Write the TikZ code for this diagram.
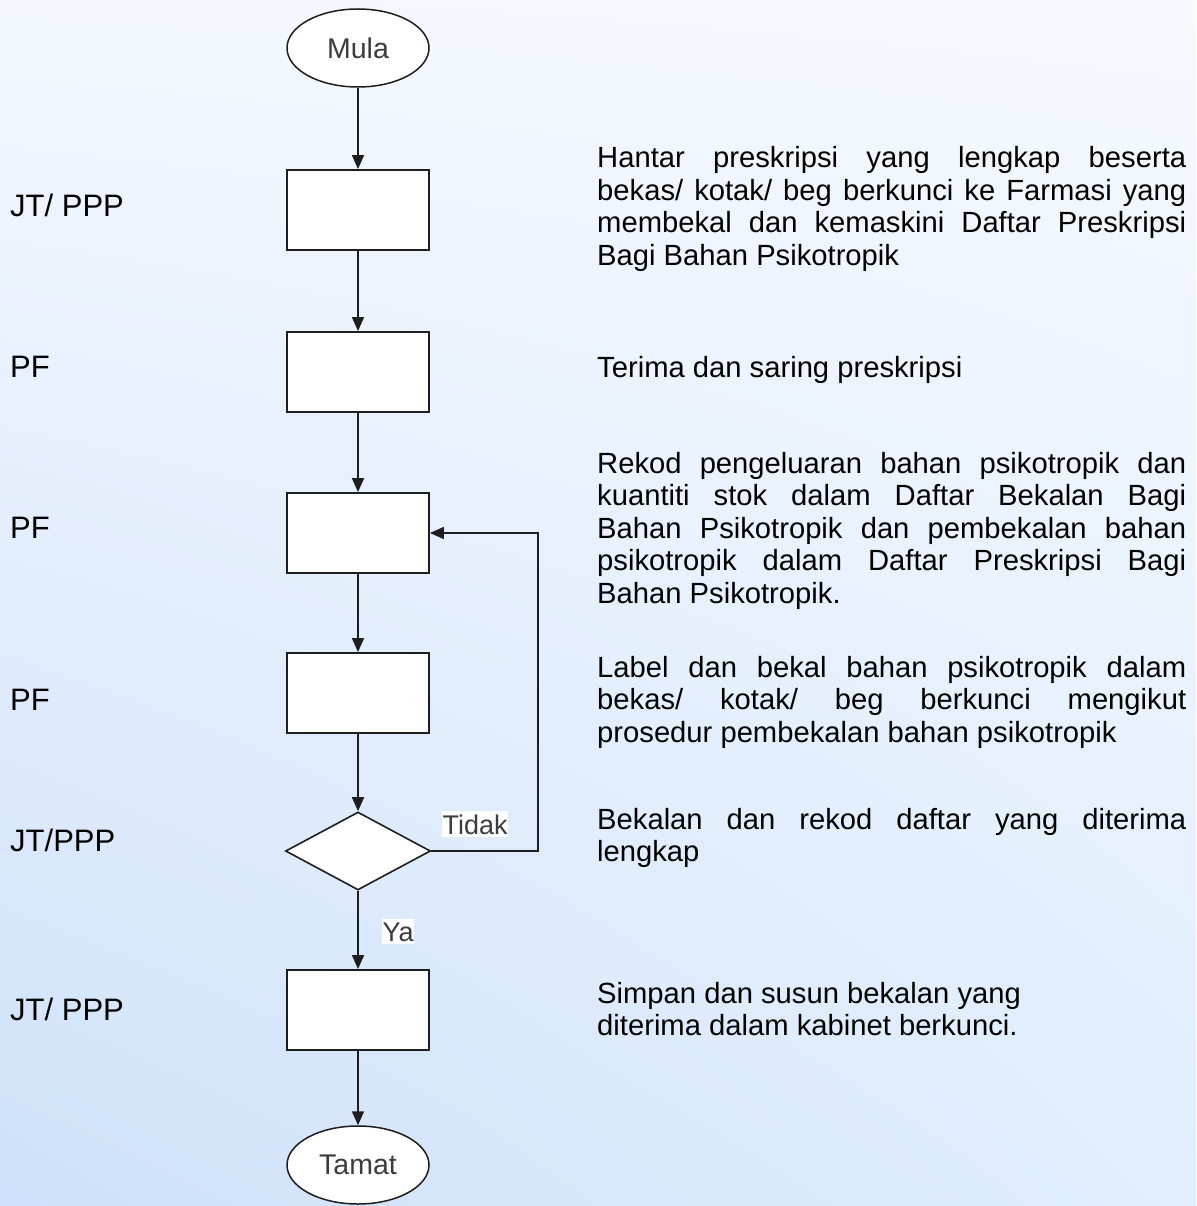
\documentclass[tikz,border=0pt]{standalone}
\usepackage{fontspec}
\setmainfont{Liberation Sans}
\usetikzlibrary{shapes.geometric,arrows.meta,shadings}
\definecolor{bgTL}{RGB}{244,248,254}
\definecolor{bgTR}{RGB}{246,249,254}
\definecolor{bgBL}{RGB}{206,225,250}
\definecolor{bgBR}{RGB}{224,238,253}
\definecolor{edge}{RGB}{30,30,30}
\definecolor{ntext}{RGB}{60,60,60}
\newcommand\dsetup{\tolerance=10000\relax\hyphenpenalty=10000\relax}
\begin{document}
\begin{tikzpicture}[x=1pt,y=-1pt,
  term/.style={ellipse, draw=edge, line width=1.5pt, fill=white, minimum width=142pt, minimum height=78pt, inner sep=0pt, font={\fontsize{28.5}{31}\selectfont}, text=ntext},
  proc/.style={rectangle, draw=edge, line width=1.9pt, fill=white, minimum width=142pt, minimum height=80pt, inner sep=0pt},
  decis/.style={diamond, draw=edge, line width=1.6pt, fill=white, minimum width=145pt, minimum height=78pt, inner sep=0pt},
  side/.style={anchor=base west, inner sep=0pt, font={\fontsize{31}{36}\selectfont}},
  desc/.style={anchor=base west, inner sep=0pt, text width=589pt, align=justify, font={\fontsize{29.2}{32.5}\selectfont\dsetup}},
  lab/.style={anchor=base west, fill=white, inner xsep=0.5pt, inner ysep=3pt, font={\fontsize{27}{30}\selectfont}, text=ntext},
  arr/.style={draw=edge, line width=1.7pt, -{Triangle[width=12pt,length=14pt]}}
]
\useasboundingbox (0,0) rectangle (1196,1206);
\shade[upper left=bgTL, upper right=bgTR, lower left=bgBL, lower right=bgBR] (0,0) rectangle (1196,1206);

% flow nodes
\node[term] (mula) at (358,48) {Mula};
\node[proc] (b1) at (358,210) {};
\node[proc] (b2) at (358,372) {};
\node[proc] (b3) at (358,533) {};
\node[proc] (b4) at (358,693) {};
\node[decis] (dec) at (358,851) {};
\node[proc] (b5) at (358,1010) {};
\node[term] (tamat) at (358,1165) {Tamat};
\coordinate (fb) at (538,533);

% connectors
\draw[arr] (mula) -- (b1);
\draw[arr] (b1) -- (b2);
\draw[arr] (b2) -- (b3);
\draw[arr] (b3) -- (b4);
\draw[arr] (b4) -- (dec);
\draw[arr] (dec) -- (b5);
\draw[arr] (b5) -- (tamat);
\draw[arr] (dec.east) -| (fb) -- (b3.east);

% branch labels
\node[lab] (tidak) at (442,834) {Tidak};
\node[lab] (ya) at (382,941) {Ya};

% left role labels
\node[side] (r1) at (10,217) {JT/ PPP};
\node[side] (r2) at (10,377) {PF};
\node[side] (r3) at (10,538) {PF};
\node[side] (r4) at (10,710) {PF};
\node[side] (r5) at (10,851) {JT/PPP};
\node[side] (r6) at (10,1020) {JT/ PPP};

% right descriptions
\node[desc] (d1) at (597,168) {Hantar preskripsi yang lengkap beserta\linebreak bekas/ kotak/ beg berkunci ke Farmasi yang\linebreak membekal dan kemaskini Daftar Preskripsi\linebreak Bagi Bahan Psikotropik};
\node[desc] (d2) at (597,377) {Terima dan saring preskripsi};
\node[desc] (d3) at (597,473) {Rekod pengeluaran bahan psikotropik dan\linebreak kuantiti stok dalam Daftar Bekalan Bagi\linebreak Bahan Psikotropik dan pembekalan bahan\linebreak psikotropik dalam Daftar Preskripsi Bagi\linebreak Bahan Psikotropik.};
\node[desc] (d4) at (597,677) {Label dan bekal bahan psikotropik dalam\linebreak bekas/ kotak/ beg berkunci mengikut\linebreak prosedur pembekalan bahan psikotropik};
\node[desc] (d5) at (597,829) {Bekalan dan rekod daftar yang diterima\linebreak lengkap};
\node[desc] (d6) at (597,1003) {Simpan dan susun bekalan yang\\diterima dalam kabinet berkunci.};
\end{tikzpicture}
\end{document}
